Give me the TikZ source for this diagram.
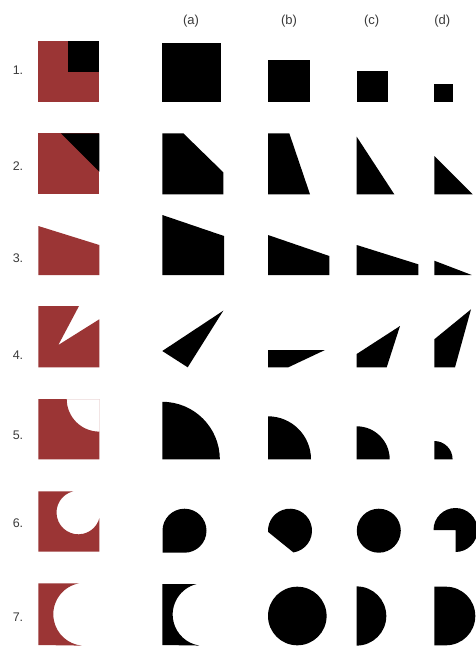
\documentclass[tikz,border=0pt]{standalone}
\usepackage{fontspec}
\usetikzlibrary{calc}
\setmainfont{Liberation Sans}
\definecolor{brick}{HTML}{9B3535}
\definecolor{labelgray}{HTML}{3A3A3A}
\tikzset{
  redfill/.style={fill=brick},
  blk/.style={fill=black},
  rowlabel/.style={text=labelgray,font=\fontsize{12.5}{14}\selectfont,inner sep=0pt},
  collabel/.style={text=labelgray,font=\fontsize{13}{15}\selectfont,inner sep=0pt}
}
\begin{document}
\begin{tikzpicture}[x=1pt,y=-1pt]
\useasboundingbox (0,0) rectangle (476,646);
\clip (0,0) rectangle (476,646);
\fill[white] (0,0) rectangle (476,646);

% column headers
\node[collabel] (ha) at (191,21) {(a)};
\node[collabel] (hb) at (289,21) {(b)};
\node[collabel] (hc) at (371.7,21) {(c)};
\node[collabel] (hd) at (442.3,21) {(d)};

% row labels
\node[rowlabel] (r1) at (18,70.5) {1.};
\node[rowlabel] (r2) at (18,166.3) {2.};
\node[rowlabel] (r3) at (18,257.8) {3.};
\node[rowlabel] (r4) at (18,354.8) {4.};
\node[rowlabel] (r5) at (18,435) {5.};
\node[rowlabel] (r6) at (18,522.8) {6.};
\node[rowlabel] (r7) at (18,616.7) {7.};

% ---------- row 1
\fill[redfill] (38.3,40.7) rectangle (99.3,101.7);
\fill[blk] (68.3,40.7) rectangle (99.3,71.7);
\fill[blk] (162.3,42.7) rectangle (221,101.7);
\fill[blk] (268,60) rectangle (310,101.7);
\fill[blk] (356.7,71) rectangle (388.3,101.7);
\fill[blk] (434.3,84) rectangle (452.7,101.7);

% ---------- row 2
\fill[redfill] (38.3,133.3) rectangle (99.3,194.3);
\fill[blk] (61,133.3) -- (99.3,133.3) -- (99.3,171.7) -- cycle;
\fill[blk] (162.3,133.3) -- (183.3,133.3) -- (223.3,172.3) -- (223.3,194.3) -- (162.3,194.3) -- cycle;
\fill[blk] (268,133.3) -- (289.3,133.3) -- (310,194.3) -- (268,194.3) -- cycle;
\fill[blk] (356.7,136.7) -- (394.3,194.3) -- (356.7,194.3) -- cycle;
\fill[blk] (434.3,156) -- (472.7,194.3) -- (434.3,194.3) -- cycle;

% ---------- row 3
\fill[redfill] (38.3,226) -- (99.3,245) -- (99.3,275) -- (38.3,275) -- cycle;
\fill[blk] (162.3,215) -- (224,236) -- (224,275) -- (162.3,275) -- cycle;
\fill[blk] (268,235) -- (329.3,256) -- (329.3,275) -- (268,275) -- cycle;
\fill[blk] (356.7,245) -- (418.3,264.3) -- (418.3,275) -- (356.7,275) -- cycle;
\fill[blk] (434.3,260.7) -- (471.7,275) -- (434.3,275) -- cycle;

% ---------- row 4
\fill[redfill] (38.3,306) -- (79,306) -- (58.3,345) -- (99.3,319.3) -- (99.3,367.3) -- (38.3,367.3) -- cycle;
\fill[blk] (162.3,351) -- (223.3,310.7) -- (187.7,367.3) -- cycle;
\fill[blk] (268,350) -- (325,350) -- (288.3,367.3) -- (268,367.3) -- cycle;
\fill[blk] (356.7,354) -- (400,326) -- (386.7,367.3) -- (356.7,367.3) -- cycle;
\fill[blk] (434.3,339.3) -- (471,309.3) -- (455,367.3) -- (434.3,367.3) -- cycle;

% ---------- row 5
\begin{scope}
  \clip (38.3,399) rectangle (99.3,459.3);
  \fill[redfill,even odd rule] (38.3,399) rectangle (99.3,459.3) (99.3,399) circle[radius=32.6];
\end{scope}
\fill[blk] (162.3,459.3) -- (219.8,459.3) arc[start angle=0,end angle=-90,radius=57.5] -- cycle;
\fill[blk] (268,459.3) -- (311,459.3) arc[start angle=0,end angle=-90,radius=43] -- cycle;
\fill[blk] (356.7,459.3) -- (389.7,459.3) arc[start angle=0,end angle=-90,radius=33] -- cycle;
\fill[blk] (434.3,459.3) -- (452.6,459.3) arc[start angle=0,end angle=-90,radius=18.3] -- cycle;

% ---------- row 6
\fill[redfill] (38.3,491.3) -- ($(78.3,512.5)+(-103.3:21.8)$)
  arc[start angle=-103.3,end angle=-344.6,radius=21.8]
  -- (99.3,551.7) -- (38.3,551.7) -- cycle;
\fill[blk] (162.5,530.7) -- (162.5,552.7) -- (184.5,552.7) arc[start angle=90,end angle=-180,radius=22] -- cycle;
\fill[blk] ($(290,530.7)+(81:22)$) arc[start angle=81,end angle=-183,radius=22] -- cycle;
\fill[blk] (378.8,530.7) circle[radius=22];
\fill[blk] (455.5,530) -- (455.5,552) arc[start angle=90,end angle=-180,radius=22] -- cycle;

% ---------- row 7
\fill[redfill] (38.3,583.3) -- (79,583.3) arc[start angle=-100.6,end angle=-264.2,radius=31.5] -- (38.3,645) -- cycle;
\fill[blk] (162.3,584) -- (196.7,584) arc[start angle=-103.6,end angle=-261.1,radius=31.4] -- (162.3,645) -- cycle;
\fill[blk] (297.3,616) circle[radius=29.3];
\fill[blk] (356.7,586.4) arc[start angle=-90,end angle=90,radius=29.6] -- cycle;
\fill[blk] (434.3,586.7) -- (446,586.7) arc[start angle=-90,end angle=90,radius=29.3] -- (434.3,645.3) -- cycle;
\end{tikzpicture}
\end{document}
